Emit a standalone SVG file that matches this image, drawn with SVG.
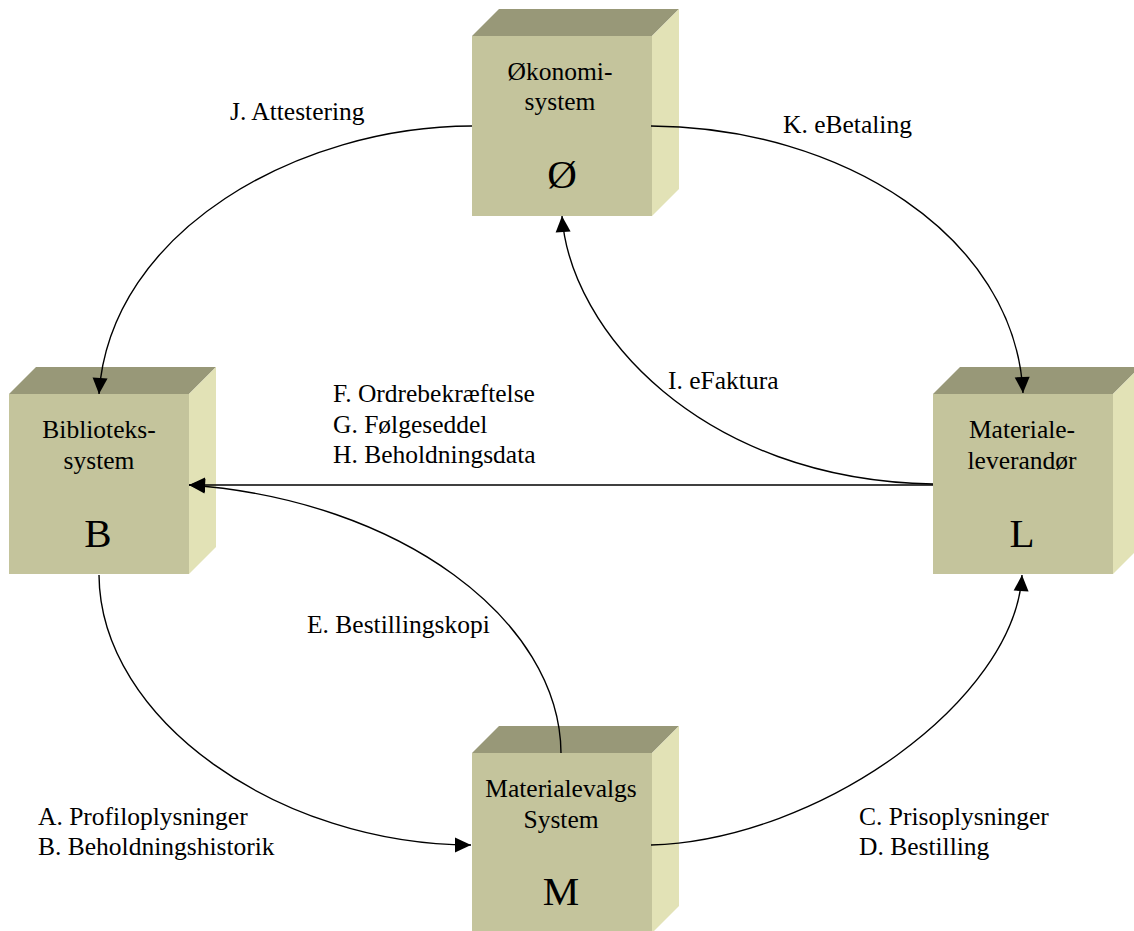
<svg xmlns="http://www.w3.org/2000/svg" width="1134" height="931" viewBox="0 0 1134 931">
<style>
.front{fill:#C4C49C}
.top{fill:#989878}
.side{fill:#E2E2B6}
.lbl{font-family:"Liberation Serif","Times New Roman",serif;font-size:25.5px;fill:#000}
.big{font-family:"Liberation Serif","Times New Roman",serif;font-size:41px;fill:#000}
.c{text-anchor:middle}
.conn{fill:none;stroke:#000;stroke-width:1.4}
</style>
<defs>
<marker id="ah" markerUnits="userSpaceOnUse" markerWidth="16" markerHeight="15" refX="16" refY="7.5" orient="auto" overflow="visible">
<path d="M0,0 L16,7.5 L0,15 Z" fill="#000"/>
</marker>
</defs>
<rect width="1134" height="931" fill="#fff"/>
<g id="node-okonomi">
<polygon class="top" points="472,36 499,9 679,9 652,36"/>
<polygon class="side" points="652,36 679,9 679,189 652,216"/>
<rect class="front" x="472" y="36" width="180" height="180"/>
<text class="lbl c" x="560" y="80">Økonomi-</text>
<text class="lbl c" x="560" y="110">system</text>
<text class="big c" x="562" y="188">Ø</text>
</g>
<g id="node-bibliotek">
<polygon class="top" points="9,394 36,367 216,367 189,394"/>
<polygon class="side" points="189,394 216,367 216,547 189,574"/>
<rect class="front" x="9" y="394" width="180" height="180"/>
<text class="lbl c" x="99" y="438">Biblioteks-</text>
<text class="lbl c" x="99" y="469">system</text>
<text class="big c" x="98" y="547">B</text>
</g>
<g id="node-leverandor">
<polygon class="top" points="933,394 960,367 1140,367 1113,394"/>
<polygon class="side" points="1113,394 1140,367 1140,547 1113,574"/>
<rect class="front" x="933" y="394" width="180" height="180"/>
<text class="lbl c" x="1022" y="438">Materiale-</text>
<text class="lbl c" x="1022" y="469">leverandør</text>
<text class="big c" x="1022" y="547">L</text>
</g>
<g id="node-materialevalg">
<polygon class="top" points="472,753 499,726 679,726 652,753"/>
<polygon class="side" points="652,753 679,726 679,906 652,933"/>
<rect class="front" x="472" y="753" width="180" height="180"/>
<text class="lbl c" x="561" y="797">Materialevalgs</text>
<text class="lbl c" x="561" y="828">System</text>
<text class="big c" x="561" y="905">M</text>
</g>
<g id="connectors">
<path class="conn" d="M472,126 C300,126 110,230 99,394" marker-end="url(#ah)"/>
<path class="conn" d="M651,126 C840,127 1015,235 1023,393" marker-end="url(#ah)"/>
<path class="conn" d="M933,484 C700,480 570,330 562,216" marker-end="url(#ah)"/>
<path class="conn" d="M933,485 L189,485" marker-end="url(#ah)"/>
<path class="conn" d="M561,753 C560,620 400,500 189,485" marker-end="url(#ah)"/>
<path class="conn" d="M99,575 C100,720 280,845 471,845" marker-end="url(#ah)"/>
<path class="conn" d="M651,845 C820,840 1015,700 1022,575" marker-end="url(#ah)"/>
</g>
<g id="labels">
<text class="lbl" x="230" y="120">J. Attestering</text>
<text class="lbl" x="783" y="133">K. eBetaling</text>
<text class="lbl" x="668" y="389">I. eFaktura</text>
<text class="lbl" x="333" y="402">F. Ordrebekræftelse</text>
<text class="lbl" x="333" y="433">G. Følgeseddel</text>
<text class="lbl" x="333" y="463">H. Beholdningsdata</text>
<text class="lbl" x="307" y="633">E. Bestillingskopi</text>
<text class="lbl" x="38" y="825">A. Profiloplysninger</text>
<text class="lbl" x="38" y="855">B. Beholdningshistorik</text>
<text class="lbl" x="859" y="825">C. Prisoplysninger</text>
<text class="lbl" x="859" y="855">D. Bestilling</text>
</g>
</svg>
